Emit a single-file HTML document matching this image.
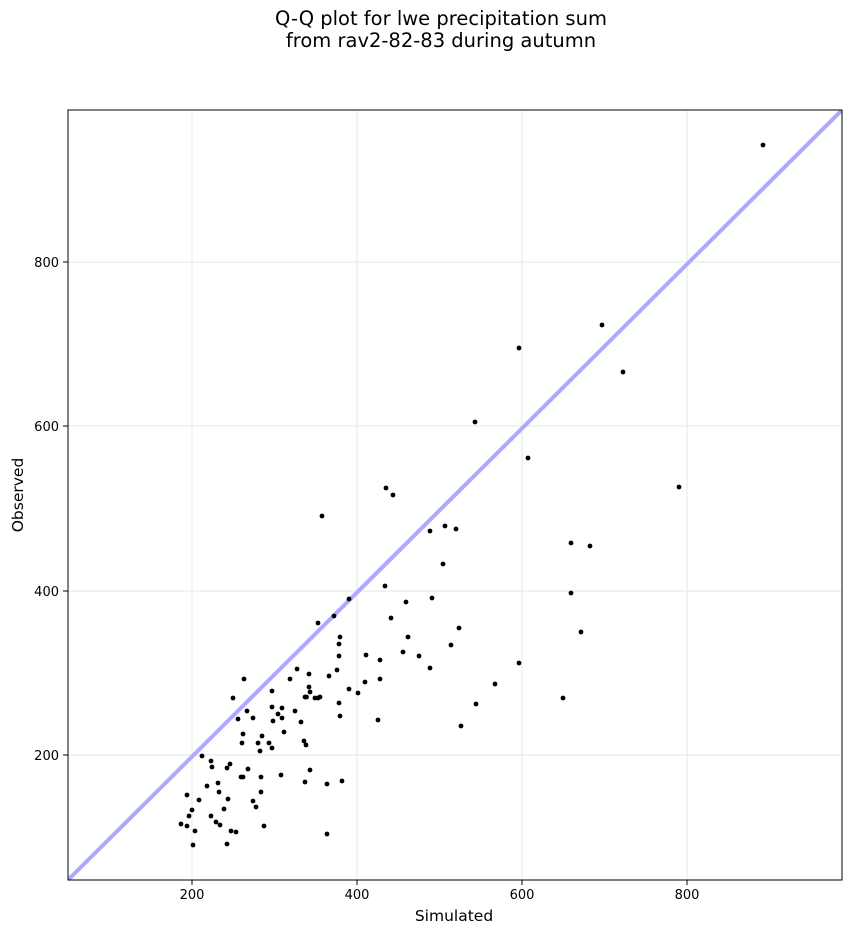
<!DOCTYPE html>
<html><head><meta charset="utf-8"><style>body{margin:0;background:#fff}svg{display:block;font-family:"DejaVu Sans","Liberation Sans",sans-serif}</style></head>
<body>
<svg width="851" height="934" viewBox="0 0 851 934" xmlns="http://www.w3.org/2000/svg">
<rect width="851" height="934" fill="#fff"/>
<text x="441" y="25" font-size="19.5" text-anchor="middle">Q-Q plot for lwe precipitation sum</text>
<text x="441" y="47" font-size="19.5" text-anchor="middle">from rav2-82-83 during autumn</text>
<g stroke="#ebebeb" stroke-width="1.2">
<line x1="192" y1="110" x2="192" y2="880"/><line x1="357" y1="110" x2="357" y2="880"/><line x1="522" y1="110" x2="522" y2="880"/><line x1="687" y1="110" x2="687" y2="880"/>
<line x1="68" y1="262" x2="842" y2="262"/><line x1="68" y1="426" x2="842" y2="426"/><line x1="68" y1="591" x2="842" y2="591"/><line x1="68" y1="755" x2="842" y2="755"/>
</g>
<clipPath id="c"><rect x="68" y="110" width="774" height="770"/></clipPath>
<line x1="68" y1="880" x2="842" y2="110" stroke="#aaaaff" stroke-width="4" clip-path="url(#c)"/>
<g fill="#000">
<circle cx="763" cy="145" r="2.4"/><circle cx="602" cy="325" r="2.4"/><circle cx="519" cy="348" r="2.4"/><circle cx="623" cy="372" r="2.4"/><circle cx="475" cy="422" r="2.4"/><circle cx="528" cy="458" r="2.4"/><circle cx="386" cy="488" r="2.4"/><circle cx="393" cy="495" r="2.4"/><circle cx="679" cy="487" r="2.4"/><circle cx="322" cy="516" r="2.4"/><circle cx="445" cy="526" r="2.4"/><circle cx="430" cy="531" r="2.4"/><circle cx="456" cy="529" r="2.4"/><circle cx="443" cy="564" r="2.4"/><circle cx="571" cy="543" r="2.4"/><circle cx="590" cy="546" r="2.4"/><circle cx="571" cy="593" r="2.4"/><circle cx="581" cy="632" r="2.4"/>
<circle cx="385" cy="586" r="2.4"/><circle cx="406" cy="602" r="2.4"/><circle cx="432" cy="598" r="2.4"/><circle cx="391" cy="618" r="2.4"/><circle cx="459" cy="628" r="2.4"/><circle cx="408" cy="637" r="2.4"/><circle cx="451" cy="645" r="2.4"/><circle cx="403" cy="652" r="2.4"/><circle cx="419" cy="656" r="2.4"/><circle cx="430" cy="668" r="2.4"/><circle cx="380" cy="660" r="2.4"/><circle cx="380" cy="679" r="2.4"/><circle cx="519" cy="663" r="2.4"/><circle cx="495" cy="684" r="2.4"/><circle cx="476" cy="704" r="2.4"/><circle cx="461" cy="726" r="2.4"/><circle cx="563" cy="698" r="2.4"/><circle cx="349" cy="599" r="2.4"/><circle cx="334" cy="616" r="2.4"/><circle cx="318" cy="623" r="2.4"/><circle cx="340" cy="637" r="2.4"/><circle cx="339" cy="644" r="2.4"/><circle cx="339" cy="656" r="2.4"/><circle cx="366" cy="655" r="2.4"/>
<circle cx="297" cy="669" r="2.4"/><circle cx="337" cy="670" r="2.4"/><circle cx="309" cy="674" r="2.4"/><circle cx="329" cy="676" r="2.4"/><circle cx="290" cy="679" r="2.4"/><circle cx="365" cy="682" r="2.4"/><circle cx="349" cy="689" r="2.4"/><circle cx="358" cy="693" r="2.4"/><circle cx="309" cy="687" r="2.4"/><circle cx="310" cy="692" r="2.4"/><circle cx="305" cy="697" r="2.4"/><circle cx="306.5" cy="697" r="2.4"/><circle cx="315" cy="698" r="2.4"/><circle cx="318" cy="698" r="2.4"/><circle cx="320" cy="697" r="2.4"/><circle cx="339" cy="703" r="2.4"/><circle cx="282" cy="708" r="2.4"/><circle cx="295" cy="711" r="2.4"/><circle cx="282" cy="718" r="2.4"/><circle cx="301" cy="722" r="2.4"/><circle cx="340" cy="716" r="2.4"/><circle cx="378" cy="720" r="2.4"/><circle cx="284" cy="732" r="2.4"/><circle cx="304" cy="741" r="2.4"/><circle cx="306" cy="745" r="2.4"/><circle cx="281" cy="775" r="2.4"/><circle cx="310" cy="770" r="2.4"/><circle cx="305" cy="782" r="2.4"/><circle cx="327" cy="784" r="2.4"/><circle cx="342" cy="781" r="2.4"/><circle cx="327" cy="834" r="2.4"/>
<circle cx="244" cy="679" r="2.4"/><circle cx="233" cy="698" r="2.4"/><circle cx="272" cy="691" r="2.4"/><circle cx="247" cy="711" r="2.4"/><circle cx="238" cy="719" r="2.4"/><circle cx="253" cy="718" r="2.4"/><circle cx="272" cy="707" r="2.4"/><circle cx="278" cy="714" r="2.4"/><circle cx="273" cy="721" r="2.4"/><circle cx="243" cy="734" r="2.4"/><circle cx="242" cy="743" r="2.4"/><circle cx="262" cy="736" r="2.4"/><circle cx="258" cy="743" r="2.4"/><circle cx="260" cy="751" r="2.4"/><circle cx="269" cy="743" r="2.4"/><circle cx="272" cy="748" r="2.4"/><circle cx="202" cy="756" r="2.4"/><circle cx="211" cy="761" r="2.4"/><circle cx="212" cy="767" r="2.4"/><circle cx="227" cy="768" r="2.4"/><circle cx="230" cy="764" r="2.4"/><circle cx="248" cy="769" r="2.4"/><circle cx="241" cy="777" r="2.4"/><circle cx="243" cy="777" r="2.4"/><circle cx="261" cy="777" r="2.4"/><circle cx="207" cy="786" r="2.4"/><circle cx="218" cy="783" r="2.4"/><circle cx="219" cy="792" r="2.4"/><circle cx="261" cy="792" r="2.4"/><circle cx="187" cy="795" r="2.4"/><circle cx="199" cy="800" r="2.4"/><circle cx="228" cy="799" r="2.4"/><circle cx="253" cy="801" r="2.4"/><circle cx="256" cy="807" r="2.4"/><circle cx="192" cy="810" r="2.4"/><circle cx="224" cy="809" r="2.4"/><circle cx="189" cy="816" r="2.4"/><circle cx="211" cy="816" r="2.4"/><circle cx="216" cy="822" r="2.4"/><circle cx="220" cy="825" r="2.4"/><circle cx="181" cy="824" r="2.4"/><circle cx="187" cy="826" r="2.4"/><circle cx="195" cy="831" r="2.4"/><circle cx="231" cy="831" r="2.4"/><circle cx="236" cy="832" r="2.4"/><circle cx="264" cy="826" r="2.4"/><circle cx="193" cy="845" r="2.4"/><circle cx="227" cy="844" r="2.4"/>
</g>
<rect x="68" y="110" width="774" height="770" fill="none" stroke="#000" stroke-width="1"/>
<g stroke="#000" stroke-width="1">
<line x1="192" y1="880" x2="192" y2="885"/><line x1="357" y1="880" x2="357" y2="885"/><line x1="522" y1="880" x2="522" y2="885"/><line x1="687" y1="880" x2="687" y2="885"/>
<line x1="63" y1="262" x2="68" y2="262"/><line x1="63" y1="426" x2="68" y2="426"/><line x1="63" y1="591" x2="68" y2="591"/><line x1="63" y1="755" x2="68" y2="755"/>
</g>
<g font-size="13" text-anchor="middle">
<text x="192" y="899">200</text><text x="357" y="899">400</text><text x="522" y="899">600</text><text x="687" y="899">800</text>
</g>
<g font-size="13" text-anchor="end">
<text x="59" y="267">800</text><text x="59" y="431">600</text><text x="59" y="596">400</text><text x="59" y="760">200</text>
</g>
<text x="454" y="921" font-size="15.5" text-anchor="middle">Simulated</text>
<text x="23" y="495" font-size="15.5" text-anchor="middle" transform="rotate(-90 23 495)">Observed</text>
</svg>
</body></html>
